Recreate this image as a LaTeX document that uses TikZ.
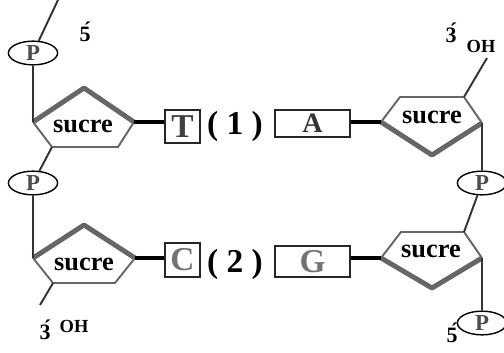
\documentclass[tikz,border=0pt]{standalone}
\usepackage{fontspec}
\setmainfont{Liberation Serif}
\usetikzlibrary{shapes.geometric}

\begin{document}
\begin{tikzpicture}[x=0.02cm,y=-0.02cm,
    pho/.style={ellipse,draw=black,line width=0.8pt,inner sep=0pt,minimum width=28pt,minimum height=13.5pt,text=black!70,font=\fontsize{13}{13}\selectfont\bfseries},
    base/.style={draw=black!85,line width=1pt,inner sep=0pt,font=\fontsize{19}{19}\selectfont\bfseries},
    bond/.style={black!80,line width=1.1pt},
    ring/.style={black!60,line width=1.1pt,line join=round},
    ringb/.style={black!60,line width=2.8pt,line join=round},
    link/.style={black,line width=1.8pt},
    sugar/.style={font=\fontsize{15}{15}\selectfont\bfseries},
    num/.style={font=\fontsize{12.5}{12.5}\selectfont\bfseries},
    oh/.style={font=\fontsize{10.5}{10.5}\selectfont\bfseries},
    pair/.style={font=\fontsize{19}{19}\selectfont\bfseries}]
    \useasboundingbox (0,0) rectangle (504,352);
    \coordinate (s1l) at (33,122);
    \coordinate (s1t) at (84,88);
    \coordinate (s1r) at (134,122);
    \coordinate (s1br) at (118,147);
    \coordinate (s1bl) at (52,147);
    \coordinate (s3l) at (33,258);
    \coordinate (s3t) at (84,225);
    \coordinate (s3r) at (135,258);
    \coordinate (s3br) at (115,283);
    \coordinate (s3bl) at (53,283);
    \coordinate (s2l) at (381,122);
    \coordinate (s2tl) at (400,97);
    \coordinate (s2tr) at (464,97);
    \coordinate (s2r) at (482,123);
    \coordinate (s2b) at (432,155);
    \coordinate (s4l) at (381,258);
    \coordinate (s4tl) at (401,232);
    \coordinate (s4tr) at (464,232);
    \coordinate (s4r) at (482,258);
    \coordinate (s4b) at (432,288);
    \draw[ringb] (s1l) -- (s1t) -- (s1r);
    \draw[ring] (s1r) -- (s1br) -- (s1bl) -- (s1l);
    \draw[ringb] (s3l) -- (s3t) -- (s3r);
    \draw[ring] (s3r) -- (s3br) -- (s3bl) -- (s3l);
    \draw[ringb] (s2l) -- (s2b) -- (s2r);
    \draw[ring] (s2r) -- (s2tr) -- (s2tl) -- (s2l);
    \draw[ringb] (s4l) -- (s4b) -- (s4r);
    \draw[ring] (s4r) -- (s4tr) -- (s4tl) -- (s4l);
    \node[sugar] (su1) at (83,126) {sucre};
    \node[sugar] (su2) at (432,117) {sucre};
    \node[sugar] (su3) at (84,264) {sucre};
    \node[sugar] (su4) at (431,251) {sucre};
    \node[pho] (p1) at (33,53) {P};
    \node[pho] (p2) at (33,183) {P};
    \node[pho] (p3) at (482,183) {P};
    \node[pho] (p4) at (482,323) {P};
    \node[base,text=black!75,minimum width=20pt,minimum height=19pt] (t) at (182.5,126.5) {T};
    \node[base,text=black!55,minimum width=20pt,minimum height=19.4pt] (c) at (182.5,260) {C};
    \node[base,text=black!80,minimum width=42.7pt,minimum height=15.4pt,font=\fontsize{16}{16}\selectfont\bfseries] (a) at (312.5,123.5) {A};
    \node[base,text=black!55,minimum width=42.7pt,minimum height=17.6pt] (g) at (312.5,261.5) {G};
    \node[pair] (n1) at (235,126) {( 1 )};
    \node[pair] (n2) at (235,264) {( 2 )};
    \draw[link] (s1r) -- (s1r -| t.west);
    \draw[link] (s3r) -- (s3r -| c.west);
    \draw[link] (s2l -| a.east) -- (s2l);
    \draw[link] (s4l -| g.east) -- (s4l);
    \coordinate (e5) at (58,0);
    \coordinate (e3) at (40,305);
    \coordinate (eoh) at (487,58);
    \draw[bond] (p1) -- (e5);
    \draw[bond] (p1) -- (s1l);
    \draw[bond] (s1bl) -- (p2);
    \draw[bond] (p2) -- (s3l);
    \draw[bond] (s3bl) -- (e3);
    \draw[bond] (s2tr) -- (eoh);
    \draw[bond] (s2r) -- (p3);
    \draw[bond] (p3) -- (s4tr);
    \draw[bond] (s4r) -- (p4);
    \node[num] (l5a) at (85,32) {\'{5}};
    \node[num] (l3a) at (451,33) {\'{3}};
    \node[oh] (oha) at (481,46) {OH};
    \node[num] (l3b) at (45,330) {\'{3}};
    \node[oh] (ohb) at (74,326) {OH};
    \node[num] (l5b) at (452,333) {\'{5}};
\end{tikzpicture}
\end{document}
